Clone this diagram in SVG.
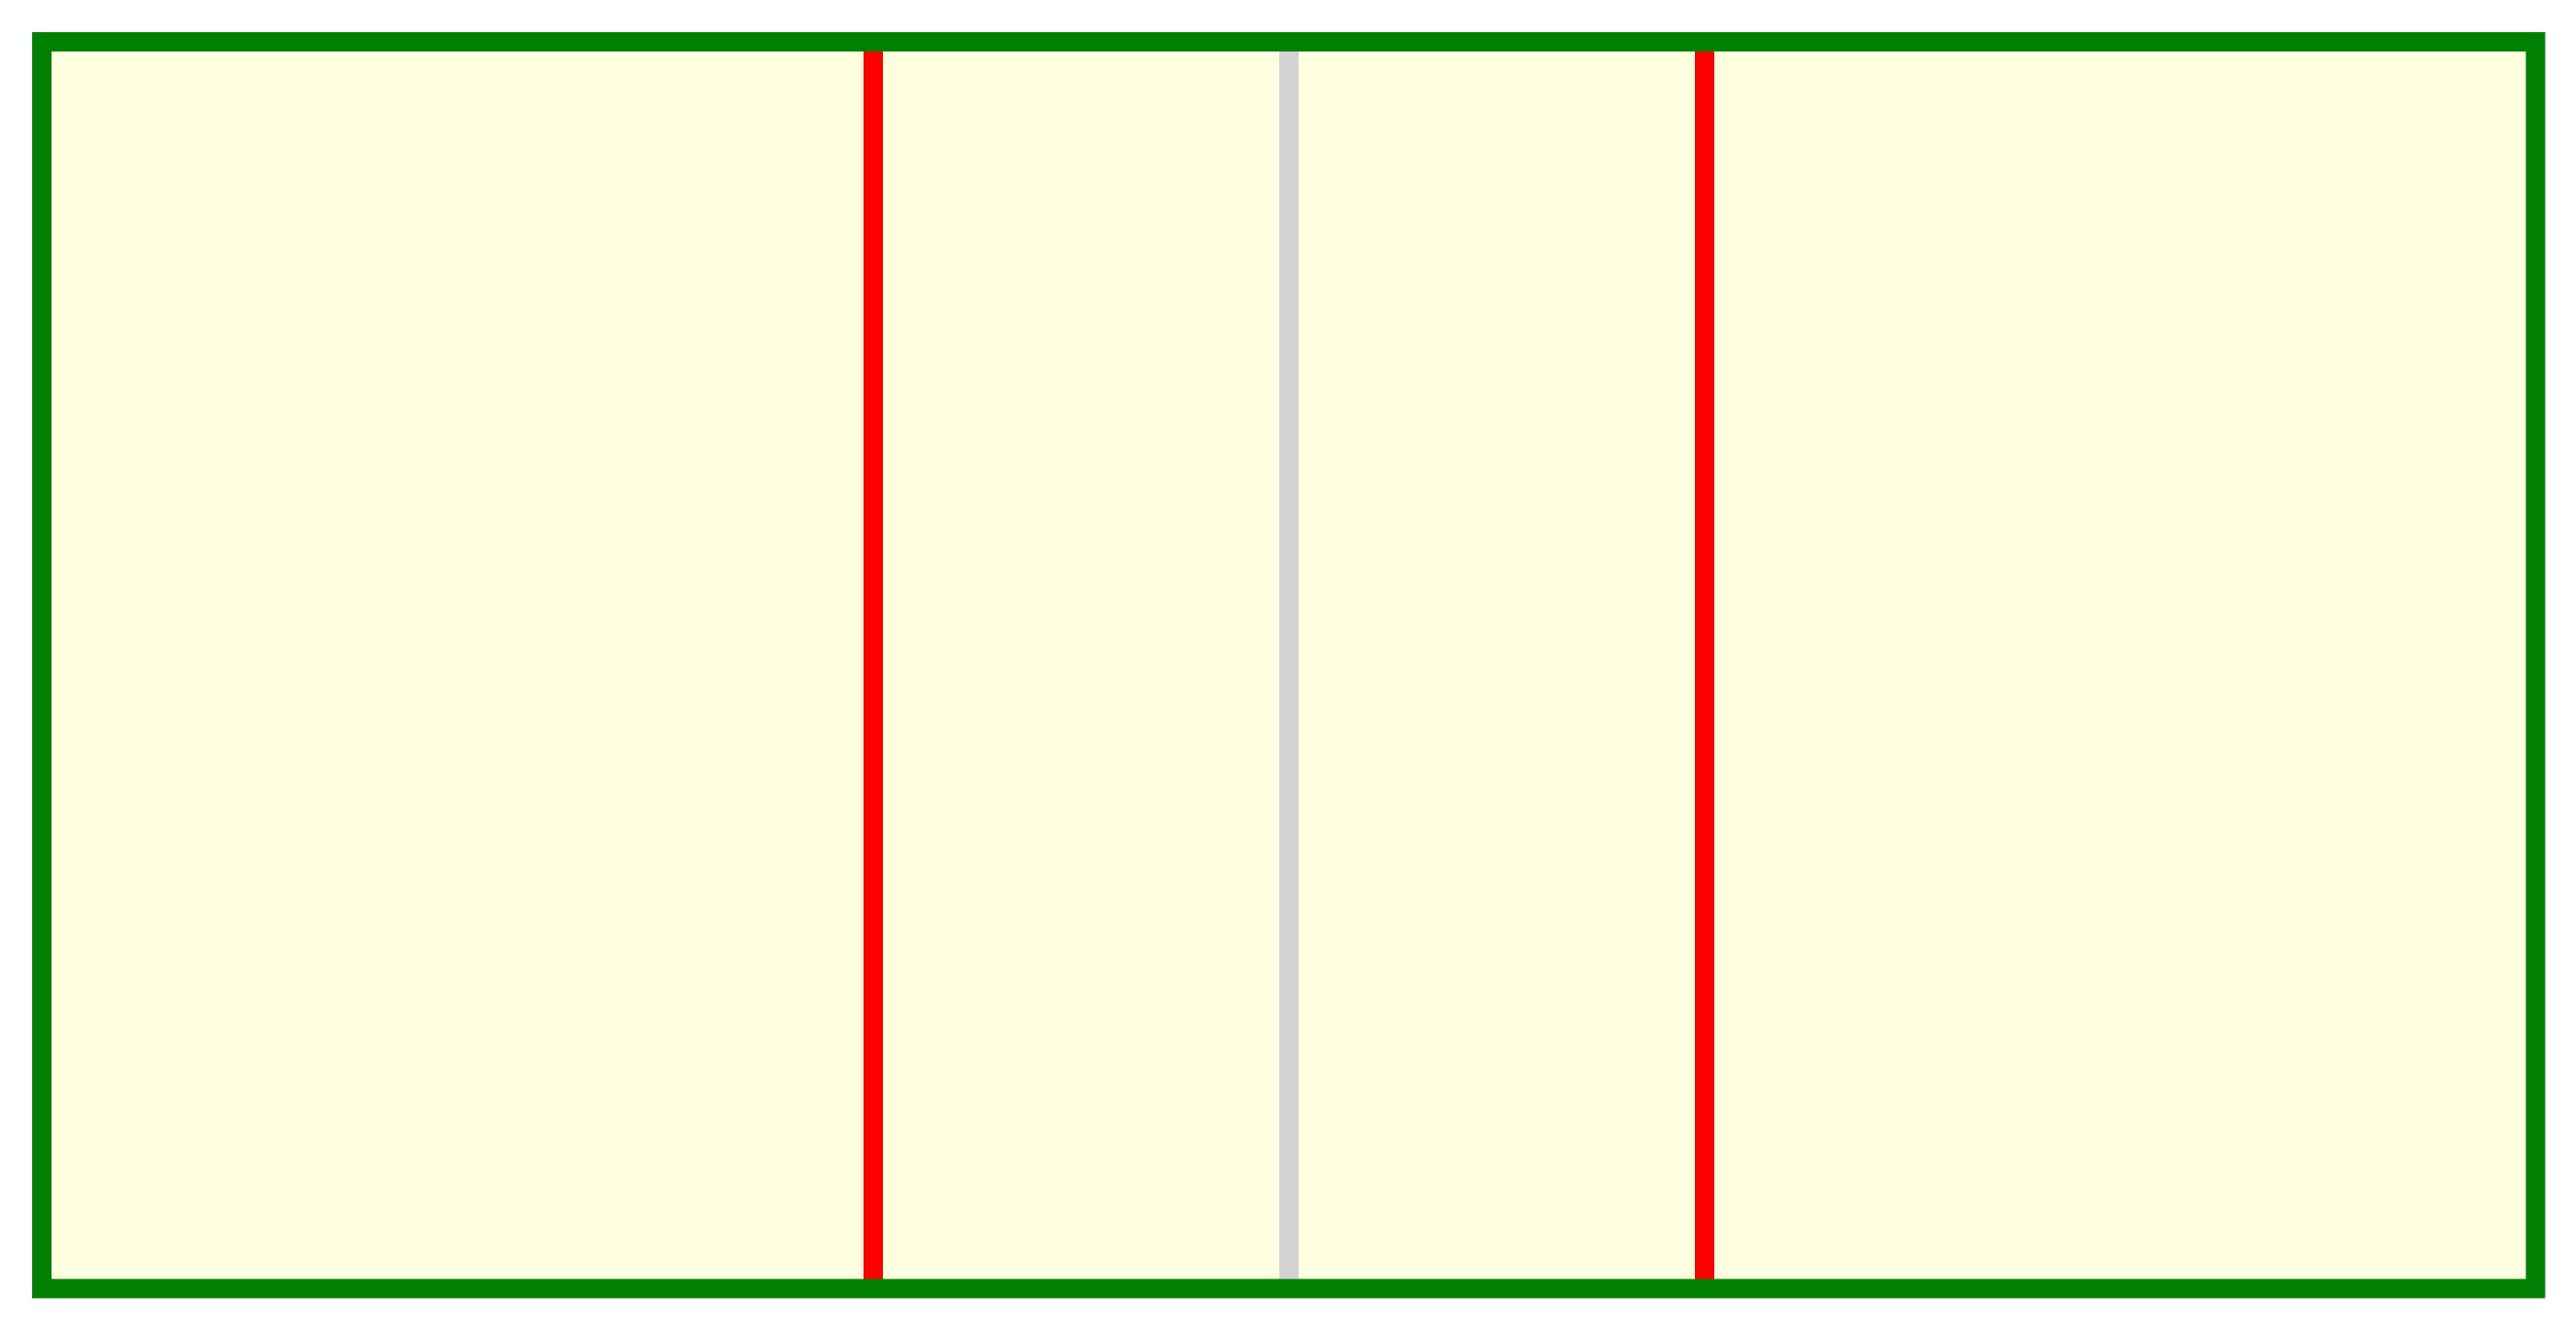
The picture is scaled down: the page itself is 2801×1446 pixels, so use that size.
<svg xmlns="http://www.w3.org/2000/svg" width="2801" height="1446" viewBox="0 0 2801 1446">
<style>
.frame{fill:none;stroke:#008000;stroke-width:21}
.red{stroke:#FF0000;stroke-width:21}
.gray{stroke:#D3D3D3;stroke-width:21}
</style>
<rect x="0" y="0" width="2801" height="1446" fill="#FFFFFF"/>
<g id="panel">
<rect x="45.5" y="45.5" width="2711.5" height="1355.5" fill="#FFFFE0"/>
</g>
<g id="connectors">
<line class="red" x1="949.5" y1="45" x2="949.5" y2="1401"/>
<line class="gray" x1="1401.5" y1="45" x2="1401.5" y2="1401"/>
<line class="red" x1="1853.5" y1="45" x2="1853.5" y2="1401"/>
</g>
<g id="frame">
<rect class="frame" x="45.5" y="45.5" width="2711.5" height="1355.5"/>
</g>
</svg>
